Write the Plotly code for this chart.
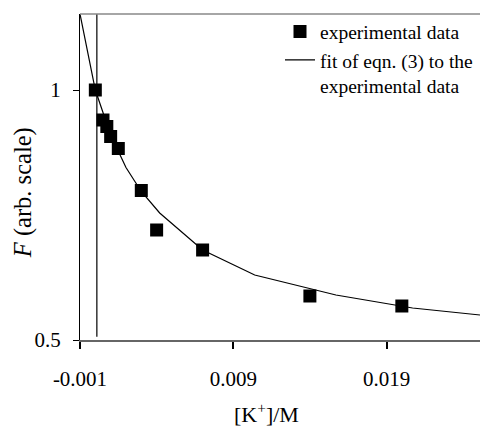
import plotly.graph_objects as go

# Measured fluorescence vs potassium concentration
k_conc = [0.0, 0.0005, 0.00075, 0.001, 0.0015, 0.003, 0.004, 0.007, 0.014, 0.020]
f_obs = [1.0, 0.94, 0.927, 0.907, 0.883, 0.799, 0.72, 0.68, 0.588, 0.568]

# Fitted curve of eqn. (3), sampled at these concentrations
fit_conc = [-0.001, 0.0, 0.001, 0.002, 0.003, 0.0042, 0.007, 0.0104, 0.0157, 0.0207, 0.0251]
fit_f = [1.152, 1.0, 0.91, 0.845, 0.797, 0.754, 0.68, 0.63, 0.59, 0.564, 0.55]

x_ticks = [-0.001, 0.009, 0.019]
x_tick_text = ["-0.001", "0.009", "0.019"]
y_ticks = [0.5, 1.0]
y_tick_text = ["0.5", "1"]

SERIF = "Liberation Serif"

fig = go.Figure()
fig.add_trace(go.Scatter(
    x=k_conc, y=f_obs, mode="markers", name="experimental data",
    marker=dict(symbol="square", size=13, color="black", line=dict(width=0)),
    cliponaxis=False,
))
fig.add_trace(go.Scatter(
    x=fit_conc, y=fit_f, mode="lines",
    name="fit of eqn. (3) to the<br>experimental data",
    line=dict(color="black", width=1.2),
))

# Vertical reference at zero concentration and top frame line
fig.add_shape(type="line", xref="x", yref="paper", x0=0.0001, x1=0.0001, y0=0.01, y1=1,
              line=dict(color="black", width=1.2))
fig.add_shape(type="line", xref="paper", yref="paper", x0=0, x1=1, y0=1, y1=1,
              line=dict(color="#888888", width=1.5))

fig.add_annotation(text="<i>F</i> (arb. scale)", xref="paper", yref="paper",
                   x=-0.142, y=0.451, xanchor="center", yanchor="middle",
                   textangle=-90, showarrow=False,
                   font=dict(family=SERIF, size=24.5, color="black"))
fig.add_annotation(text="[K<sup>+</sup>]/M", xref="paper", yref="paper",
                   x=0.467, y=-0.224, xanchor="center", yanchor="middle",
                   showarrow=False,
                   font=dict(family=SERIF, size=22, color="black"))

fig.update_layout(
    width=480, height=426,
    margin=dict(l=80, r=0, t=14, b=86, autoexpand=False),
    paper_bgcolor="white", plot_bgcolor="white",
    font=dict(family=SERIF, size=21, color="black"),
    showlegend=True,
    legend=dict(x=0.5, y=1.005, xanchor="left", yanchor="top", valign="top",
                bgcolor="rgba(0,0,0,0)", font=dict(family=SERIF, size=19.5, color="black"),
                tracegroupgap=0),
    xaxis=dict(range=[-0.001, 0.0251], tickvals=x_ticks, ticktext=x_tick_text,
               tickfont=dict(family=SERIF, size=21, color="black"),
               showgrid=False, zeroline=False, showline=True, linecolor="#666666",
               linewidth=2, ticks="outside", ticklen=7, tickcolor="black",
               tickwidth=1.5, ticklabelstandoff=12),
    yaxis=dict(range=[0.5, 1.152], tickvals=y_ticks, ticktext=y_tick_text,
               tickfont=dict(family=SERIF, size=21, color="black"),
               showgrid=False, zeroline=False, showline=True, linecolor="black",
               linewidth=1.2, ticks="outside", ticklen=6, tickcolor="black",
               tickwidth=1.2, ticklabelstandoff=8),
)

fig.write_html("out.html")
